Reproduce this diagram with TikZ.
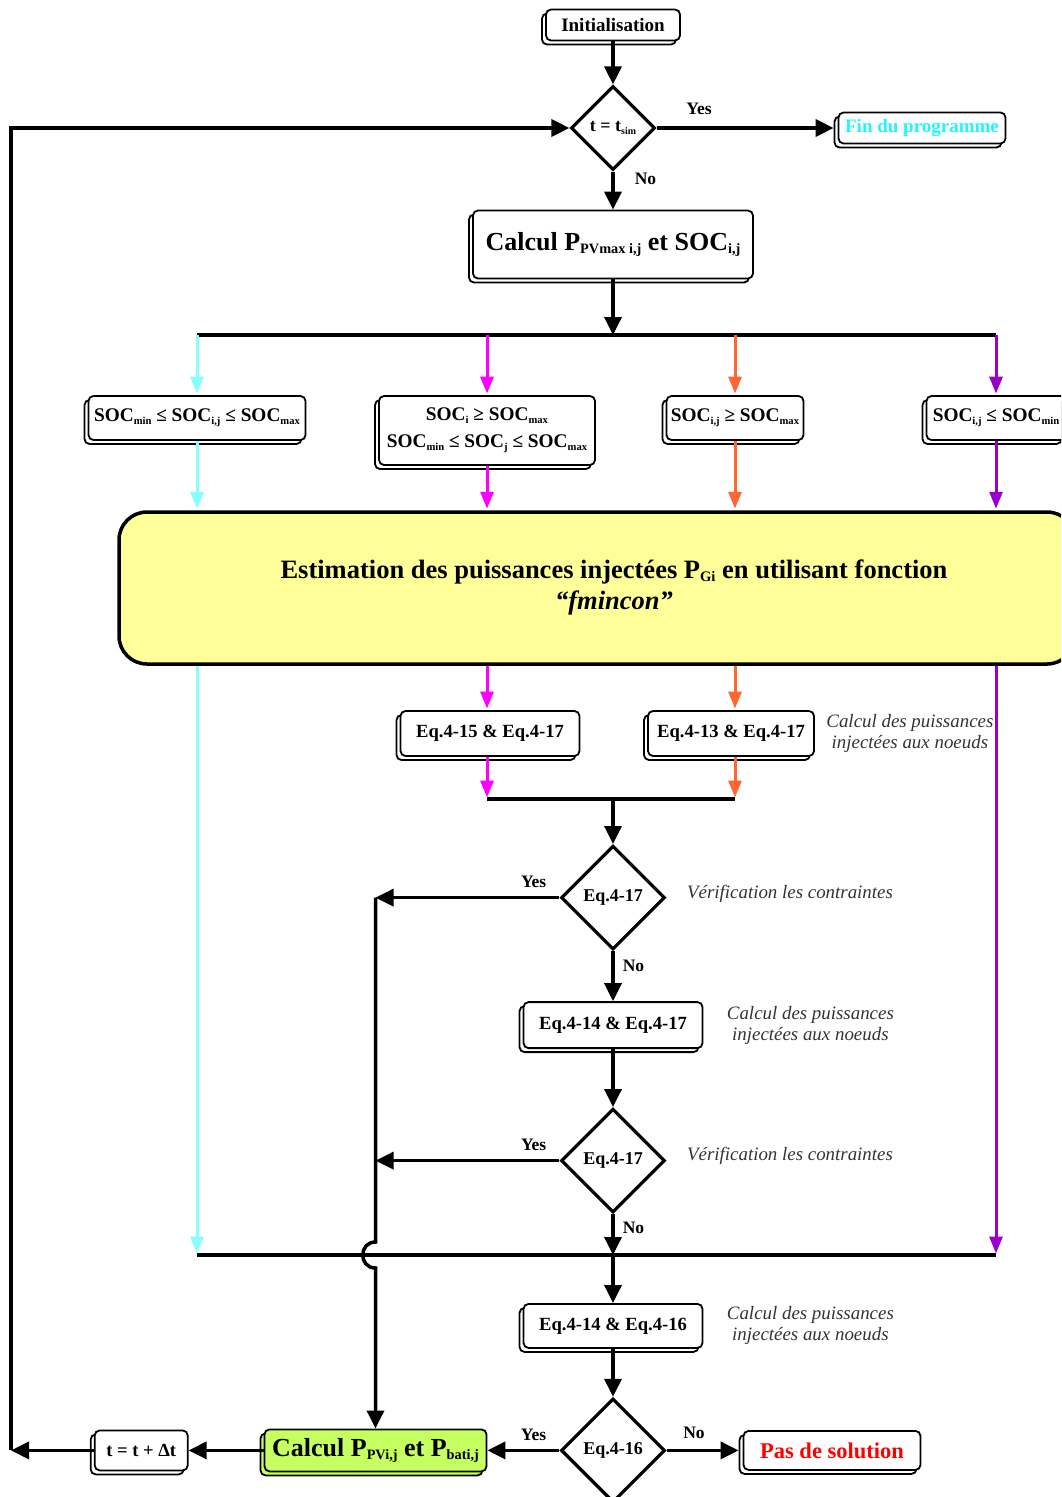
\documentclass[tikz,border=0pt]{standalone}
\usepackage{fontspec}
\setmainfont{Liberation Serif}
\usepackage{xcolor}
\usepackage{tikz}
\usetikzlibrary{
  arrows.meta,
  shapes.geometric,
  positioning,
  calc,
  shadows
}
\definecolor{fcCyan}{HTML}{88FFFF}
\definecolor{fcFin}{HTML}{22F4FF}
\definecolor{fcMag}{HTML}{FF00FF}
\definecolor{fcOrange}{HTML}{FF6633}
\definecolor{fcPurple}{HTML}{9900CC}
\definecolor{fcYellow}{HTML}{FFFF99}
\definecolor{fcGreen}{HTML}{C6FF62}
\definecolor{fcRed}{HTML}{FF0000}
\definecolor{fcNote}{HTML}{333333}
\newcommand{\dn}[1]{\raisebox{-0.3ex}{\scalebox{0.55}{#1}}}
\tikzset{
  fcbox/.style={
    draw, line width=1.8pt, rounded corners=5pt, fill=white, align=center,
    font=\fontsize{18.6}{27}\selectfont\bfseries,
    copy shadow={shadow xshift=-4pt, shadow yshift=-4pt}
  },
  socbox/.style={fcbox, font=\fontsize{19.3}{27}\selectfont\bfseries},
  decision/.style={
    draw, diamond, aspect=1, line width=3.2pt, fill=white, inner sep=0pt,
    minimum size=104pt, font=\fontsize{18}{20}\selectfont\bfseries
  },
  estbox/.style={draw, line width=3.5pt, rounded corners=28pt, fill=fcYellow},
  arr/.style={-{Triangle[length=18pt, width=17pt]}, line width=3.5pt},
  carr/.style={-{Triangle[length=17pt, width=13pt]}, line width=3pt, shorten >=1.5pt},
  busline/.style={line width=3.5pt},
  yesno/.style={font=\fontsize{17.5}{19}\selectfont\bfseries, inner sep=2pt},
  note/.style={font=\fontsize{18.9}{21}\selectfont\itshape, text=fcNote, align=center}
}

\begin{document}
\begin{tikzpicture}[x=1pt, y=-1pt]
  \useasboundingbox (0,0) rectangle (1061,1497);
  \clip (0,0) rectangle (1061,1497);

  % start of the loop
  \node[fcbox, minimum width=134pt, minimum height=31pt, font=\fontsize{19}{21}\selectfont\bfseries] (init) at (613,25) {Initialisation};
  \node[decision, minimum size=84pt, font=\fontsize{18}{20}\selectfont\bfseries] (d1) at (613,128) {t = t\dn{sim}};
  \node[fcbox, minimum width=167pt, minimum height=31pt, font=\fontsize{19}{22}\selectfont\bfseries, text=fcFin, right=181pt of d1] (fin) {Fin du programme};
  \node[fcbox, minimum width=280pt, minimum height=68pt, font=\fontsize{26}{30}\selectfont\bfseries, below=38pt of d1] (calc) {Calcul P\dn{PVmax i,j} et SOC\dn{i,j}};

  % the four cases
  \node[socbox, minimum width=217pt, minimum height=44pt] (socA) at (197,418) {SOC\dn{min} ≤ SOC\dn{i,j} ≤ SOC\dn{max}};
  \node[socbox, minimum width=216pt, minimum height=69pt] (socB) at (487,430.5) {SOC\dn{i} ≥ SOC\dn{max}\\SOC\dn{min} ≤ SOC\dn{j} ≤ SOC\dn{max}};
  \node[socbox, minimum width=137pt, minimum height=44pt] (socC) at (735,418) {SOC\dn{i,j} ≥ SOC\dn{max}};
  \node[socbox, minimum width=139pt, minimum height=44pt] (socD) at (996,418) {SOC\dn{i,j} ≤ SOC\dn{min}};

  \node[estbox, minimum width=956pt, minimum height=152pt] (est) at (597,588) {};
  \node[font=\fontsize{26.5}{31}\selectfont\bfseries, align=center] (esttxt) at (614,587) {Estimation des puissances injectées P\dn{Gi} en utilisant fonction\\\textit{“fmincon”}};

  \node[fcbox, minimum width=179pt, minimum height=45pt] (eq15) at (490,733.5) {Eq.4-15 \& Eq.4-17};
  \node[fcbox, minimum width=166pt, minimum height=45pt] (eq13) at (731,733.5) {Eq.4-13 \& Eq.4-17};
  \node[note, right=8pt of eq13] (note1) {Calcul des puissances\\injectées aux noeuds};

  \coordinate (split) at (613,335);
  \coordinate (join) at (613,799);
  \coordinate (merge) at (613,1255);

  % checks
  \node[decision, below=45pt of join] (d2) {Eq.4-17};
  \node[note, right=17pt of d2, yshift=4pt] (note2) {Vérification les contraintes};
  \node[fcbox, minimum width=179pt, minimum height=46pt, below=50pt of d2] (eq14a) {Eq.4-14 \& Eq.4-17};
  \node[note, right=20pt of eq14a] (note3) {Calcul des puissances\\injectées aux noeuds};
  \node[decision, below=58pt of eq14a] (d3) {Eq.4-17};
  \node[note, right=17pt of d3, yshift=5pt] (note4) {Vérification les contraintes};
  \node[fcbox, minimum width=179pt, minimum height=44pt, below=48pt of merge] (eq14b) {Eq.4-14 \& Eq.4-16};
  \node[note, right=20pt of eq14b] (note5) {Calcul des puissances\\injectées aux noeuds};
  \node[decision, below=48pt of eq14b] (d4) {Eq.4-16};

  % last row
  \node[fcbox, minimum width=177pt, minimum height=39pt, font=\fontsize{22.5}{24}\selectfont\bfseries, text=fcRed, right=76pt of d4] (pas) {Pas de solution};
  \node[fcbox, minimum width=222pt, minimum height=42pt, font=\fontsize{26}{28}\selectfont\bfseries, fill=fcGreen, left=72pt of d4] (green) {Calcul P\dn{PVi,j} et P\dn{bati,j}};
  \node[fcbox, minimum width=93pt, minimum height=40pt, font=\fontsize{18.5}{20}\selectfont\bfseries, left=75pt of green] (tupd) {t = t + Δt};

  \coordinate (yes1) at (green.north |- d2.west);
  \coordinate (hop) at (yes1 |- merge);
  \coordinate (back) at (tupd.west -| 11,0);

  % connectors
  \draw[arr] (init) -- (d1);
  \draw[arr] (d1) -- node[yesno, above=10pt, pos=0.24] {Yes} ([xshift=-4pt]fin.west);
  \draw[arr] (d1) -- node[yesno, right=18pt, pos=0.2] {No} (calc);
  \draw[arr] (calc) -- (split);
  \draw[busline] (split -| socA) -- (split -| socD);
  \draw[carr, fcCyan] (split -| socA) -- (socA);
  \draw[carr, fcMag] (split -| socB) -- (socB);
  \draw[carr, fcOrange] (split -| socC) -- (socC);
  \draw[carr, fcPurple] (split -| socD) -- (socD);
  \draw[carr, fcCyan] (socA) -- (socA |- est.north);
  \draw[carr, fcMag] (socB) -- (socB |- est.north);
  \draw[carr, fcOrange] (socC) -- (socC |- est.north);
  \draw[carr, fcPurple] (socD) -- (socD |- est.north);

  \draw[busline] (join -| socB) -- (join -| socC);
  \draw[busline] (merge -| socA) -- (merge -| socD);
  \draw[carr, fcCyan] (est.south -| socA) -- (merge -| socA);
  \draw[carr, fcPurple] (est.south -| socD) -- (merge -| socD);
  \draw[carr, fcMag] (est.south -| socB) -- (eq15.north -| socB);
  \draw[carr, fcOrange] (est.south -| socC) -- (eq13.north -| socC);
  \draw[carr, fcMag] (eq15.south -| socB) -- (join -| socB);
  \draw[carr, fcOrange] (eq13.south -| socC) -- (join -| socC);
  \draw[arr] (join) -- (d2);

  \draw[arr] (d2) -- node[yesno, above=6pt, pos=0.14] {Yes} (yes1);
  \draw[arr] (yes1) -- ($(hop)+(0,-13)$) .. controls ($(hop)+(-17,-13)$) and ($(hop)+(-17,13)$) .. ($(hop)+(0,13)$) -- (green);
  \draw[arr] (d2) -- node[yesno, right=6pt, pos=0.3] {No} (eq14a);
  \draw[arr] (eq14a) -- (d3);
  \draw[arr] (d3) -- node[yesno, above=6pt, pos=0.14] {Yes} (d3.west -| yes1);
  \draw[arr] (d3) -- node[yesno, right=6pt, pos=0.33] {No} (merge);
  \draw[arr] (merge) -- (eq14b);
  \draw[arr] (eq14b) -- (d4);
  \draw[arr] (d4) -- node[yesno, above=6pt, pos=0.36] {Yes} (green);
  \draw[arr] (d4) -- node[yesno, above=8pt, pos=0.38] {No} ([xshift=-4pt]pas.west);
  \draw[arr] (green) -- (tupd);
  \draw[arr] (tupd) -- (back);
  \draw[arr] (back) |- (d1);
\end{tikzpicture}
\end{document}
